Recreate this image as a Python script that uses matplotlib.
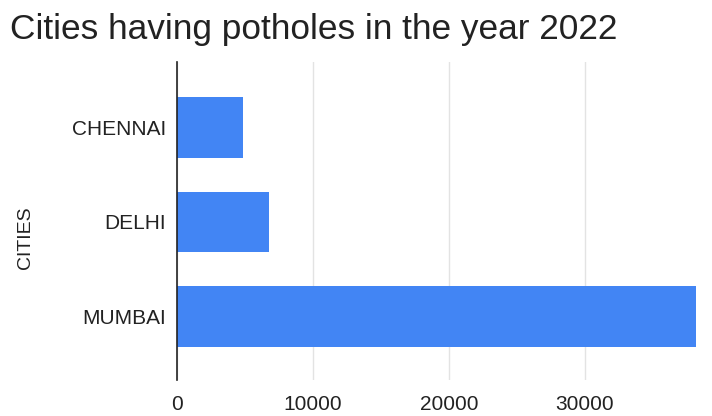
import matplotlib
matplotlib.use("Agg")
import matplotlib.pyplot as plt

plt.rcParams['font.family'] = ['Liberation Sans', 'DejaVu Sans']

cities = ["CHENNAI", "DELHI", "MUMBAI"]
potholes = [4830, 6800, 38200]
x_ticks = [0, 10000, 20000, 30000]

fig = plt.figure(figsize=(7.12, 4.16), dpi=100)
W, H = 712, 416
left, right, top, bottom = 177, 697, 62, 380
ax = fig.add_axes([left / W, 1 - bottom / H, (right - left) / W, (bottom - top) / H])

ypos = list(range(len(cities)))
ax.barh(ypos, potholes, height=0.64, color="#4285F4", zorder=3)

ax.set_ylim(2.67, -0.69)
ax.set_xlim(0, 38250)
ax.set_yticks(ypos)
ax.set_yticklabels(cities, fontsize=15, color="#222222")
ax.set_xticks(x_ticks)
ax.set_xticklabels([str(t) for t in x_ticks], fontsize=15, color="#222222")
ax.tick_params(axis="both", length=0)
ax.tick_params(axis="y", pad=8)
ax.tick_params(axis="x", pad=11)

ax.grid(axis="x", color="#e3e3e3", linewidth=1, zorder=0)
for side in ["top", "right", "bottom"]:
    ax.spines[side].set_visible(False)
ax.spines["left"].set_color("#222222")
ax.spines["left"].set_linewidth(1.2)
ax.spines["left"].set_zorder(4)

ax.set_ylabel("CITIES", fontsize=14, color="#222222")
ax.yaxis.set_label_coords(-0.275, 0.447)

fig.text(10 / W, 1 - 39 / H, "Cities having potholes in the year 2022",
         fontsize=25.4, color="#222222", ha="left", va="baseline")

fig.savefig("out.png", dpi=100, facecolor="white")
